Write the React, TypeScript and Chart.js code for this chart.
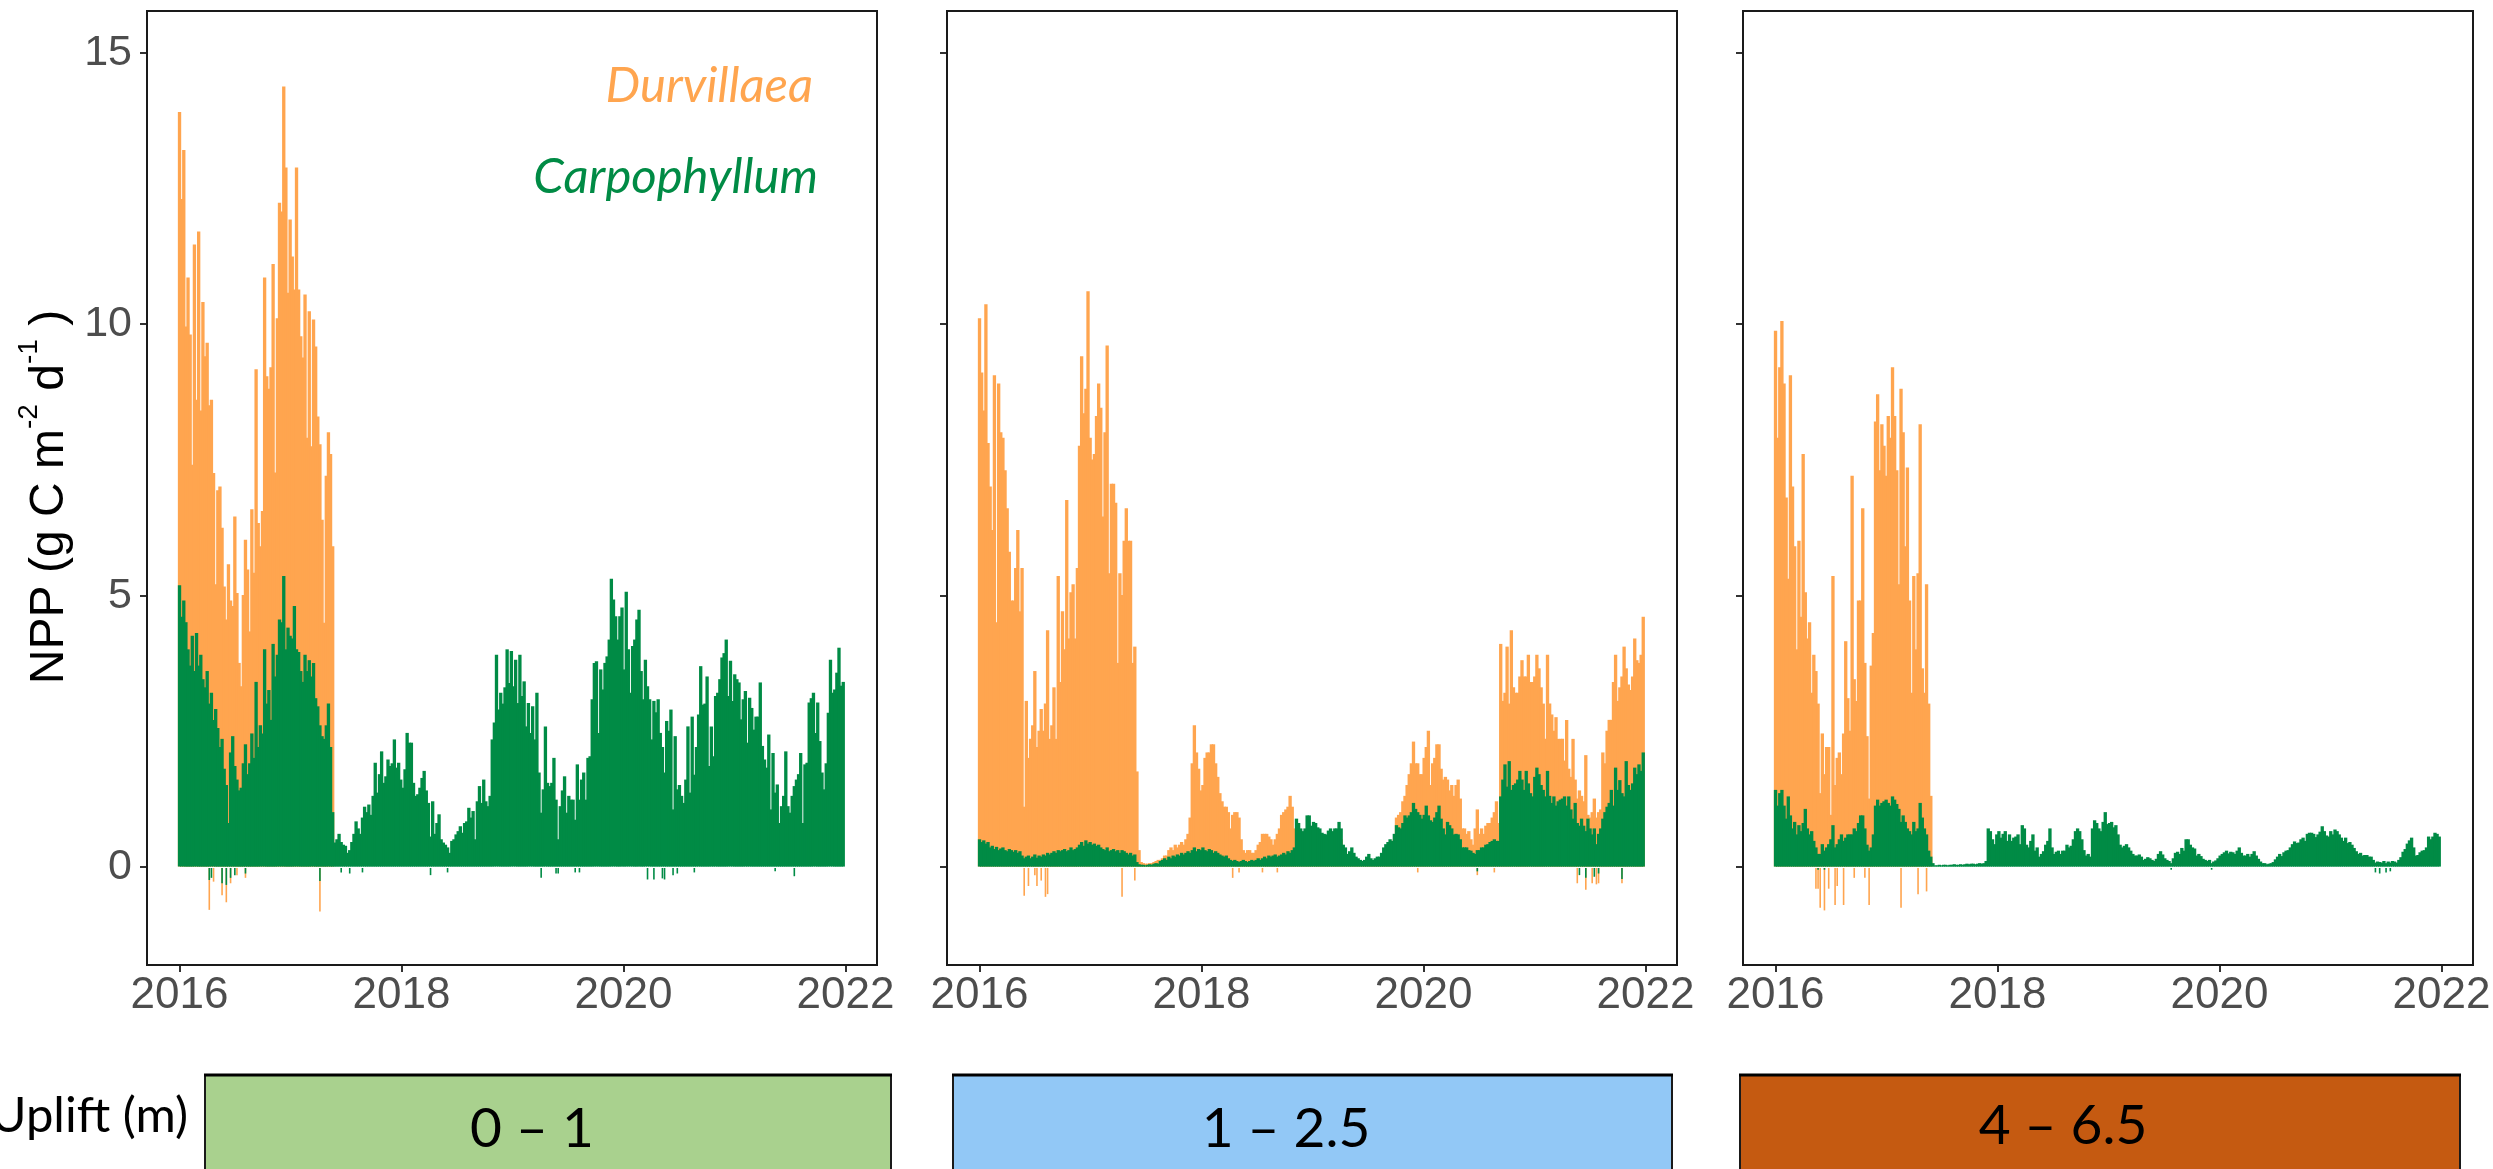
import React, { useEffect, useRef } from 'react';
import { Chart, registerables } from 'chart.js';

Chart.register(...registerables);

// ---------------- data ----------------
const startYear = 2016;
const weekInYears = 7 / 365.25;
const xTickYears = [2016, 2018, 2020, 2022];
const yTickValues = [0, 5, 10, 15];
const seriesNames = ['Durvillaea', 'Carpophyllum'];
const upliftTitle = 'Uplift (m)';
const upliftLabels = ['0 – 1', '1 – 2.5', '4 – 6.5'];

// weekly NPP (g C m-2 d-1), starting 2016-01-01
const p1Durvillaea = [
  13.9, 12.3, 13.2, 9.95, 10.85, 9.8, 7.4, 11.46, 8.6, 11.7,
  8.4, 10.4, 9.4, 9.65, 8.5, 8.6, 7.25, 5.2, 6.93, 7.0,
  6.24, 5.16, 4.55, 5.57, 4.9, 4.8, 6.45, 5.04, 3.75, 3.32,
  5.0, 6.02, 5.47, 4.33, 6.58, 5.41, 9.16, 6.33, 5.9, 6.55,
  10.85, 9.03, 8.8, 9.2, 11.1, 7.26, 10.1, 12.23, 12.07, 14.37,
  12.88, 10.57, 11.92, 11.24, 10.63, 12.88, 10.63, 9.77, 9.38, 10.54,
  7.9, 10.23, 7.74, 10.08, 9.58, 8.29, 7.78, 6.39, 4.49, 7.2,
  8.0, 7.6, 5.9,
];
const p1Carpophyllum = [
  5.18, 4.6, 4.9, 4.5, 4.0, 3.7, 4.25, 3.6, 4.3, 3.7,
  3.9, 3.45, 3.3, 3.6, 3.0, 3.2, 2.7, 2.9, 2.55, 2.2,
  2.35, 1.8, 1.5, 0.8, 2.1, 2.4, 1.85, 1.6, 1.4, 1.45,
  1.9, 2.25, 1.7, 1.9, 2.45, 2.0, 3.4, 2.2, 2.6, 2.45,
  4.0, 3.0, 3.25, 2.7, 4.1, 3.5, 3.9, 4.55, 4.5, 5.35,
  4.0, 4.4, 4.25, 4.2, 4.8, 4.0, 3.95, 3.6, 3.4, 3.9,
  3.6, 3.8, 3.5, 3.75, 3.1, 2.95, 2.6, 2.4, 2.35, 2.6,
  3.0, 2.2, 1.0, 0.44, 0.5, 0.6, 0.45, 0.4, 0.38, 0.25,
  0.3, 0.45, 0.6, 0.83, 0.7, 0.6, 0.9, 1.1, 1.0, 1.14,
  0.95, 1.3, 1.91, 1.36, 1.7, 2.12, 1.54, 1.66, 1.97, 1.85,
  1.9, 2.34, 1.82, 1.91, 1.6, 1.45, 1.79, 2.46, 2.28, 2.28,
  1.54, 1.3, 1.33, 1.45, 1.63, 1.76, 1.4, 1.17, 0.55, 1.2,
  0.6, 0.8, 0.96, 0.5, 0.44, 0.4, 0.35, 0.25, 0.47, 0.5,
  0.59, 0.65, 0.74, 0.62, 0.8, 0.83, 1.08, 0.9, 1.02, 0.5,
  1.2, 1.48, 1.17, 1.6, 1.2, 1.11, 1.3, 2.34, 2.65, 3.9,
  2.89, 3.2, 3.0, 3.3, 4.0, 3.38, 3.97, 3.32, 3.81, 3.01,
  3.9, 3.14, 3.41, 2.58, 3.01, 2.46, 2.95, 2.34, 3.2, 1.73,
  0.99, 1.42, 2.58, 1.54, 1.48, 1.54, 2.0, 1.23, 0.5, 1.11,
  1.4, 1.66, 0.99, 1.3, 1.23, 1.23, 0.86, 1.88, 1.23, 1.6,
  1.73, 1.23, 2.0, 2.03, 3.08, 3.75, 3.78, 2.46, 3.63, 3.26,
  3.75, 3.87, 4.18, 5.3, 4.92, 4.61, 4.18, 4.61, 4.77, 3.63,
  5.06, 4.0, 3.2, 4.06, 4.18, 4.55, 4.73, 3.6, 3.08, 3.81,
  3.32, 3.08, 2.34, 3.05, 2.84, 3.08, 2.46, 2.2, 1.73, 2.68,
  2.5, 2.89, 1.05, 2.4, 1.42, 1.5, 1.3, 1.17, 1.6, 2.58,
  1.36, 2.76, 1.69, 2.2, 2.8, 3.69, 2.98, 3.0, 3.5, 1.85,
  2.58, 2.03, 3.14, 3.2, 3.45, 3.85, 3.93, 4.18, 3.14, 3.79,
  3.05, 3.54, 3.45, 3.39, 2.71, 3.08, 3.23, 2.28, 3.11, 2.92,
  2.52, 2.76, 2.76, 3.39, 2.22, 1.97, 1.82, 2.43, 1.05, 2.09,
  1.36, 1.51, 0.8, 1.11, 1.3, 2.12, 1.11, 0.99, 1.3, 1.48,
  1.6, 1.7, 2.09, 0.8, 1.88, 1.91, 3.02, 3.1, 3.2, 2.46,
  3.02, 2.31, 1.73, 1.42, 1.9, 2.83, 3.81, 3.2, 3.26, 3.57,
  4.03, 3.33, 3.4,
];
const p2Durvillaea = [
  10.1, 9.1, 8.4, 10.36, 7.8, 7.0, 6.2, 9.05, 4.5, 8.9,
  8.0, 7.9, 7.3, 6.6, 5.8, 4.9, 4.9, 5.5, 6.2, 4.7,
  5.5, 1.1, 3.05, 2.0, 2.35, 2.6, 3.6, 2.2, 2.5, 2.9,
  2.5, 3.0, 4.35, 2.35, 2.6, 3.3, 2.35, 5.35, 3.4, 4.7,
  4.0, 6.75, 4.2, 5.05, 5.2, 4.2, 5.5, 7.75, 9.4, 8.35,
  8.8, 10.6, 7.9, 7.5, 7.6, 8.3, 8.9, 8.45, 6.45, 8.0,
  9.6, 5.4, 7.05, 7.05, 6.7, 3.75, 5.4, 5.0, 6.0, 6.6,
  6.0, 6.0, 3.75, 4.05, 1.75,
  0.3, 0.08, 0.06, 0.05, 0.05, 0.06, 0.06, 0.08, 0.1, 0.12,
  0.12, 0.15, 0.2, 0.2, 0.3, 0.35, 0.3, 0.4, 0.35, 0.4,
  0.45, 0.4, 0.5, 0.6, 0.9,
  1.9, 2.6, 2.1, 1.8, 1.4, 1.5, 2.0, 2.1, 2.1, 2.25,
  2.25, 1.9, 1.65, 1.35, 1.2, 1.1, 1.1, 1.0, 0.7, 0.95,
  1.0, 1.0, 0.9, 0.5, 0.3, 0.25, 0.3, 0.3, 0.25, 0.25,
  0.3, 0.4, 0.45, 0.6, 0.6, 0.6, 0.55, 0.5, 0.4, 0.5,
  0.6, 0.7, 0.95, 1.0, 1.05, 1.1, 1.3, 1.1, 0.7,
  0.5, 0.5, 0.5, 0.5, 0.5, 0.5, 0.5, 0.5, 0.5, 0.5, 0.5,
  0.5, 0.5, 0.5, 0.5, 0.5, 0.5, 0.5, 0.5, 0.5, 0.5, 0.5,
  0.1, 0.1, 0.1, 0.1, 0.1, 0.1, 0.1, 0.1, 0.1, 0.1, 0.1, 0.1,
  0.1, 0.1, 0.1, 0.1, 0.1, 0.1, 0.1, 0.1, 0.1, 0.1, 0.1, 0.1,
  0.5, 0.9, 0.95, 1.0, 1.2,
  1.3, 1.5, 1.7, 1.9, 2.3, 1.9, 1.9, 1.7, 1.7, 2.0,
  2.2, 2.5, 1.5, 1.9, 2.0, 2.25, 2.25, 1.8, 1.6, 1.65,
  1.6, 1.4, 1.5, 1.3, 1.5, 1.6, 1.25, 0.7, 0.7, 0.6,
  0.65, 0.5, 0.4, 0.7, 1.05, 0.6, 0.7, 0.6, 0.75, 0.8,
  0.8, 0.9, 1.0, 1.2, 0.8, 4.1, 3.05, 3.2, 4.05, 3.0,
  4.35, 3.3, 3.2, 3.2, 3.5, 3.8, 3.5, 3.5, 3.9, 3.4,
  3.4, 3.5, 3.9, 3.65, 3.3, 3.0, 2.35, 3.9, 3.0, 2.8,
  2.5, 2.75, 2.35, 2.35, 2.35, 1.95, 2.7, 1.8, 1.65, 2.35,
  1.6, 1.25, 1.4, 1.3, 1.2, 2.05, 0.95, 0.9, 1.0, 1.25,
  0.9, 1.0, 1.05, 2.1, 1.9, 2.5, 2.7, 2.7, 3.4, 3.9,
  3.05, 3.3, 3.5, 4.05, 3.65, 3.35, 3.25, 3.5, 4.2, 3.8,
  3.75, 3.9, 4.6,
];
const p2Carpophyllum = [
  0.5, 0.45, 0.48, 0.42, 0.45, 0.35, 0.38, 0.32, 0.36, 0.3,
  0.33, 0.35, 0.3, 0.28, 0.32, 0.3, 0.27, 0.3, 0.25, 0.28,
  0.2, 0.15, 0.18, 0.2, 0.15, 0.18, 0.22, 0.16, 0.2, 0.18,
  0.22, 0.2, 0.25, 0.22, 0.25, 0.28, 0.25, 0.3, 0.28, 0.3,
  0.32, 0.28, 0.3, 0.35, 0.3, 0.32, 0.35, 0.4, 0.45, 0.38,
  0.48, 0.42, 0.45, 0.4, 0.42, 0.38, 0.4, 0.35, 0.32, 0.3,
  0.35, 0.28, 0.3, 0.32, 0.28, 0.3, 0.25, 0.3, 0.28, 0.25,
  0.22, 0.25, 0.2, 0.22, 0.08, 0.04, 0.03, 0.03, 0.02, 0.03,
  0.04, 0.03, 0.05, 0.06, 0.05, 0.1, 0.12, 0.15, 0.12, 0.18,
  0.15, 0.2, 0.18, 0.22, 0.2, 0.25, 0.22, 0.25, 0.28, 0.25,
  0.3, 0.35, 0.28, 0.32, 0.3, 0.35, 0.3, 0.28, 0.32, 0.3,
  0.25, 0.28, 0.25, 0.22, 0.2, 0.18, 0.2, 0.15, 0.12, 0.1,
  0.12, 0.1, 0.08, 0.1, 0.12, 0.1, 0.08, 0.1, 0.12, 0.1,
  0.12, 0.15, 0.12, 0.15, 0.18, 0.15, 0.2, 0.18, 0.2, 0.22,
  0.18, 0.2, 0.22, 0.25, 0.22, 0.28, 0.25, 0.3, 0.35,
  0.88, 0.8, 0.7, 0.65, 0.7, 0.94, 0.94, 0.75, 0.82, 0.8, 0.72,
  0.7, 0.62, 0.6, 0.59, 0.66, 0.7, 0.65, 0.7, 0.7, 0.82,
  0.7, 0.4, 0.35, 0.23, 0.28, 0.35, 0.25, 0.18, 0.15, 0.12,
  0.1, 0.12, 0.18, 0.23, 0.15, 0.12, 0.15, 0.18, 0.18, 0.25,
  0.35, 0.41, 0.45, 0.5, 0.47, 0.6, 0.76, 0.72, 0.7, 0.8,
  0.94, 0.9, 0.94, 1.0, 1.17, 1.06, 1.0, 0.95, 0.88, 0.95,
  1.12, 0.94, 0.85, 0.82, 0.9, 1.0, 1.12, 0.88, 0.7, 0.59,
  0.82, 0.76, 0.7, 0.59, 0.6, 0.59, 0.5, 0.35, 0.35, 0.35,
  0.3, 0.29, 0.25, 0.23, 0.3, 0.3, 0.35, 0.35, 0.4, 0.41,
  0.45, 0.47, 0.5, 0.47, 0.47, 1.29, 1.6, 1.88, 1.47, 1.94,
  1.41, 1.5, 1.53, 1.6, 1.76, 1.6, 1.41, 1.76, 1.53, 1.35,
  1.29, 1.65, 1.82, 1.7, 1.5, 1.41, 1.29, 1.76, 1.3, 1.17,
  1.29, 1.12, 1.2, 1.23, 1.25, 1.29, 1.12, 1.29, 1.05, 0.88,
  1.17, 0.8, 0.75, 0.88, 0.75, 0.65, 0.88, 0.7, 0.59, 0.7,
  0.41, 0.6, 0.7, 0.88, 1.0, 1.1, 1.17, 1.41, 1.12, 1.82,
  1.41, 1.59, 1.35, 1.29, 1.94, 1.5, 1.41, 1.53, 1.82, 1.7,
  1.88, 1.76, 2.1,
];
const p3Durvillaea = [
  9.87, 7.9, 9.2, 10.05, 8.9, 6.8, 5.3, 9.05, 7.0, 5.9,
  4.0, 6.0, 4.6, 7.6, 5.05, 4.2, 4.5, 3.2, 3.9, 3.6,
  3.0, 1.35, 2.45, 1.7, 2.2, 2.2, 0.95, 5.35, 1.5, 2.0,
  2.1, 1.7, 2.45, 4.15, 3.1, 2.5, 7.2, 3.45, 3.05, 4.9,
  4.9, 6.6, 3.75, 2.4, 1.25, 3.7, 4.3, 8.2, 8.7, 7.3,
  8.15, 7.75, 7.2, 8.3, 7.9, 9.2, 8.3, 7.3, 5.2, 8.8,
  8.0, 5.9, 7.35, 4.9, 3.2, 5.35, 4.0, 5.4, 8.15, 3.65,
  3.2, 5.2, 3.0, 1.3,
];
const p3Carpophyllum = [
  1.41, 1.12, 1.35, 1.41, 1.12, 0.88, 1.29, 0.94, 0.7, 0.82,
  0.59, 0.76, 0.65, 0.8, 1.06, 0.7, 0.59, 0.65, 0.47, 0.35,
  0.23, 0.23, 0.41, 0.29, 0.35, 0.41, 0.5, 0.76, 0.35, 0.41,
  0.5, 0.59, 0.47, 0.53, 0.59, 0.59, 0.59, 0.7, 0.65, 0.8,
  0.94, 0.94, 0.7, 0.4, 0.29, 0.35, 0.59, 1.12, 1.23, 1.12,
  1.17, 1.2, 1.23, 1.17, 1.12, 1.29, 1.23, 1.15, 1.06, 0.82,
  0.94, 0.82, 0.7, 0.65, 0.59, 0.82, 0.65, 0.7, 1.17, 0.9,
  0.7, 0.59, 0.29, 0.18, 0.06, 0.02, 0.02, 0.03, 0.02, 0.03,
  0.03, 0.02, 0.03, 0.03, 0.04, 0.03, 0.03, 0.04, 0.03, 0.04,
  0.05, 0.04, 0.05, 0.05, 0.04, 0.05, 0.06, 0.05, 0.06, 0.1,
  0.7, 0.65, 0.5, 0.41, 0.59, 0.65, 0.53, 0.6, 0.65, 0.47,
  0.59, 0.47, 0.53, 0.55, 0.59, 0.41, 0.76, 0.7, 0.4, 0.35,
  0.47, 0.59, 0.29, 0.35, 0.18, 0.23, 0.28, 0.4, 0.47, 0.7,
  0.35, 0.23, 0.27, 0.29, 0.23, 0.29, 0.29, 0.4, 0.35, 0.38,
  0.5, 0.65, 0.7, 0.65, 0.5, 0.3, 0.2, 0.23, 0.18, 0.7,
  0.85, 0.8, 0.7, 0.65, 0.82, 1.0, 0.78, 0.8, 0.82, 0.72,
  0.76, 0.59, 0.4, 0.35, 0.38, 0.41, 0.35, 0.29, 0.23, 0.2,
  0.2, 0.22, 0.18, 0.12, 0.14, 0.17, 0.15, 0.12, 0.1, 0.14,
  0.23, 0.28, 0.22, 0.15, 0.12, 0.1, 0.06, 0.15, 0.25, 0.27,
  0.23, 0.34, 0.29, 0.5, 0.5, 0.4, 0.35, 0.33, 0.2, 0.23,
  0.19, 0.14, 0.12, 0.1, 0.12, 0.06, 0.09, 0.11, 0.15, 0.2,
  0.23, 0.26, 0.29, 0.24, 0.27, 0.26, 0.23, 0.29, 0.35, 0.25,
  0.2, 0.2, 0.23, 0.18, 0.23, 0.28, 0.2, 0.14, 0.09, 0.06,
  0.06, 0.04, 0.05, 0.06, 0.08, 0.13, 0.18, 0.23, 0.19, 0.26,
  0.29, 0.3, 0.35, 0.41, 0.46, 0.43, 0.44, 0.5, 0.53, 0.47,
  0.6, 0.62, 0.62, 0.6, 0.54, 0.59, 0.64, 0.74, 0.65, 0.57,
  0.55, 0.65, 0.59, 0.68, 0.65, 0.59, 0.53, 0.47, 0.53, 0.43,
  0.45, 0.4, 0.34, 0.28, 0.23, 0.25, 0.2, 0.21, 0.21, 0.18,
  0.18, 0.12, 0.07, 0.09, 0.08, 0.07, 0.1, 0.06, 0.09, 0.07,
  0.1, 0.09, 0.07, 0.12, 0.17, 0.27, 0.32, 0.42, 0.48, 0.53,
  0.35, 0.2, 0.21, 0.26, 0.29, 0.3, 0.35, 0.55, 0.5, 0.55,
  0.62, 0.6, 0.55,
];

// negative daily values: [week index, value]
const p1DurvillaeaDips = [[14, -0.79], [16, -0.27], [20, -0.52], [22, -0.65], [24, -0.3], [27, -0.15], [31, -0.2], [66, -0.82]];
const p1CarpophyllumDips = [[14, -0.24], [15, -0.2], [20, -0.3], [22, -0.33], [24, -0.2], [26, -0.15], [31, -0.12], [66, -0.26], [76, -0.1], [80, -0.12], [86, -0.1], [118, -0.15], [126, -0.1], [170, -0.2], [177, -0.12], [178, -0.12], [186, -0.1], [188, -0.1], [220, -0.23], [223, -0.23], [227, -0.21], [228, -0.23], [232, -0.15], [234, -0.12], [242, -0.1], [280, -0.08], [289, -0.17]];
const p2DurvillaeaDips = [[21, -0.53], [23, -0.35], [26, -0.15], [27, -0.35], [29, -0.25], [31, -0.55], [32, -0.5], [67, -0.55], [73, -0.25], [119, -0.2], [122, -0.1], [133, -0.1], [140, -0.1], [206, -0.1], [234, -0.15], [242, -0.1], [281, -0.3], [285, -0.42], [288, -0.3], [290, -0.32], [291, -0.3], [302, -0.3]];
const p2CarpophyllumDips = [[234, -0.08], [282, -0.15], [285, -0.2], [289, -0.18], [291, -0.12], [302, -0.22]];
const p3DurvillaeaDips = [[19, -0.4], [20, -0.4], [21, -0.75], [23, -0.8], [25, -0.4], [28, -0.7], [29, -0.35], [32, -0.7], [37, -0.2], [42, -0.2], [44, -0.7], [59, -0.75], [67, -0.5], [71, -0.45]];
const p3CarpophyllumDips = [[20, -0.05], [23, -0.05], [186, -0.05], [205, -0.05], [282, -0.1], [284, -0.12], [287, -0.1], [289, -0.08]];

// ---------------- styling / layout ----------------
const ORANGE = '#FFA54F';
const GREEN = '#008B45';
const BOX_FILLS = ['#A9D18E', '#92C8F6', '#C55A11'];
const PANEL_LEFTS = [147, 947, 1743];
const BOX_W = 730;
const Y_AXIS_W = 147;
const RIGHT_PAD = 60;
const CANVAS_H = 1050;
const AREA_TOP = 11;
const AREA_BOTTOM = 965;
const X_AXIS_H = 60;
const X_MIN = 2015.707;
const X_MAX = X_MIN + BOX_W / 111;
const Y_MIN = -1.806;
const Y_MAX = 15.774;

const panels = [
  { dur: p1Durvillaea, carp: p1Carpophyllum, durDips: p1DurvillaeaDips, carpDips: p1CarpophyllumDips },
  { dur: p2Durvillaea, carp: p2Carpophyllum, durDips: p2DurvillaeaDips, carpDips: p2CarpophyllumDips },
  { dur: p3Durvillaea, carp: p3Carpophyllum, durDips: p3DurvillaeaDips, carpDips: p3CarpophyllumDips },
];

const weekX = (w: number) => startYear + w * weekInYears;
const toPoints = (arr: number[]) => arr.map((v, i) => ({ x: weekX(i), y: v }));
const dipPoints = (arr: number[][]) => arr.map(([w, v]) => ({ x: weekX(w), y: v }));

const framePlugin = {
  id: 'frame',
  afterDatasetsDraw(chart: any) {
    const { ctx, chartArea } = chart;
    ctx.save();
    ctx.strokeStyle = '#1a1a1a';
    ctx.lineWidth = 2;
    ctx.strokeRect(chartArea.left, chartArea.top, chartArea.right - chartArea.left, chartArea.bottom - chartArea.top);
    ctx.restore();
  },
};

function Panel({ index }: { index: number }) {
  const ref = useRef<HTMLCanvasElement | null>(null);
  const width = Y_AXIS_W + BOX_W + RIGHT_PAD;
  useEffect(() => {
    const p = panels[index];
    const mainBar = { grouped: false, barPercentage: 1, categoryPercentage: 1, borderWidth: 0, inflateAmount: 0.6 };
    const dipBar = { grouped: false, barThickness: 1.6, borderWidth: 0, inflateAmount: 0 };
    const chart = new Chart(ref.current as HTMLCanvasElement, {
      type: 'bar',
      data: {
        datasets: [
          { label: seriesNames[1], data: toPoints(p.carp), backgroundColor: GREEN, order: 0, ...mainBar },
          { label: seriesNames[1] + ' (neg)', data: dipPoints(p.carpDips), backgroundColor: GREEN, order: 1, ...dipBar },
          { label: seriesNames[0], data: toPoints(p.dur), backgroundColor: ORANGE, order: 2, ...mainBar },
          { label: seriesNames[0] + ' (neg)', data: dipPoints(p.durDips), backgroundColor: ORANGE, order: 3, ...dipBar },
        ] as any,
      },
      options: {
        responsive: false,
        animation: false,
        devicePixelRatio: 1,
        events: [],
        layout: { padding: { left: 0, right: RIGHT_PAD, top: AREA_TOP, bottom: CANVAS_H - AREA_BOTTOM - X_AXIS_H } },
        plugins: { legend: { display: false }, tooltip: { enabled: false }, title: { display: false } },
        scales: {
          x: {
            type: 'linear',
            offset: false,
            min: X_MIN,
            max: X_MAX,
            afterBuildTicks: (scale: any) => { scale.ticks = xTickYears.map((v) => ({ value: v })); },
            afterFit: (scale: any) => { scale.height = X_AXIS_H; scale.paddingLeft = 0; scale.paddingRight = 0; },
            ticks: {
              autoSkip: false,
              maxRotation: 0,
              padding: -3,
              color: '#4D4D4D',
              font: { family: "'Liberation Sans', Arial, sans-serif", size: 44 },
              callback: (v: any) => String(v),
            },
            grid: { offset: false, drawOnChartArea: false, drawTicks: true, tickLength: 7, color: '#333333', lineWidth: 2 },
            border: { display: false },
          },
          y: {
            type: 'linear',
            min: Y_MIN,
            max: Y_MAX,
            afterBuildTicks: (scale: any) => { scale.ticks = yTickValues.map((v) => ({ value: v })); },
            afterFit: (scale: any) => { scale.width = Y_AXIS_W; scale.paddingTop = 0; scale.paddingBottom = 0; },
            ticks: {
              padding: 8,
              color: '#4D4D4D',
              font: { family: "'Liberation Sans', Arial, sans-serif", size: 43 },
              callback: (v: any) => (index === 0 ? String(v) : ''),
            },
            grid: { drawOnChartArea: false, drawTicks: true, tickLength: 7, color: '#333333', lineWidth: 2 },
            border: { display: false },
          },
        },
      } as any,
      plugins: [framePlugin],
    });
    return () => chart.destroy();
  }, [index]);
  return (
    <canvas
      ref={ref}
      width={width}
      height={CANVAS_H}
      style={{ position: 'absolute', left: PANEL_LEFTS[index] - Y_AXIS_W, top: 0, width, height: CANVAS_H }}
    />
  );
}

const upliftBoxes = [
  { x: 205, w: 686, tx: 532, ty: 1147 },
  { x: 953, w: 719, tx: 1286, ty: 1147 },
  { x: 1740, w: 720, tx: 2063, ty: 1144 },
];

export default function App() {
  const sans = "'Liberation Sans', Arial, sans-serif";
  const lato = "Lato, Carlito, 'Open Sans', sans-serif";
  return (
    <div style={{ position: 'absolute', left: 0, top: 0, width: 2493, height: 1169, overflow: 'hidden', background: '#fff' }}>
      {[0, 1, 2].map((i) => <Panel key={i} index={i} />)}
      <svg width={2493} height={1169} style={{ position: 'absolute', left: 0, top: 0 }}>
        <text transform="translate(63, 497) rotate(-90)" textAnchor="middle" fontFamily={sans} fontSize={48} fill="#000">
          NPP (g C m<tspan fontSize={28} dy={-26}>-2</tspan><tspan dy={26}> d</tspan><tspan fontSize={28} dy={-26}>-1</tspan><tspan dy={26}> )</tspan>
        </text>
        <text x={813} y={102} textAnchor="end" fontFamily={lato} fontStyle="italic" fontSize={49} fill={ORANGE}>{seriesNames[0]}</text>
        <text x={818} y={193} textAnchor="end" fontFamily={lato} fontStyle="italic" fontSize={49} fill={GREEN}>{seriesNames[1]}</text>
        <text x={188} y={1132} textAnchor="end" fontFamily={lato} fontSize={49} fill="#000">{upliftTitle}</text>
        {upliftBoxes.map((b, i) => (
          <g key={i}>
            <rect x={b.x} y={1075} width={b.w} height={130} fill={BOX_FILLS[i]} stroke="#1a1a1a" strokeWidth={2} />
            <line x1={b.x - 1} x2={b.x + b.w + 1} y1={1075} y2={1075} stroke="#000" strokeWidth={3} />
            <text x={b.tx} y={b.ty} textAnchor="middle" fontFamily={lato} fontSize={55} fill="#000">{upliftLabels[i]}</text>
          </g>
        ))}
      </svg>
    </div>
  );
}
